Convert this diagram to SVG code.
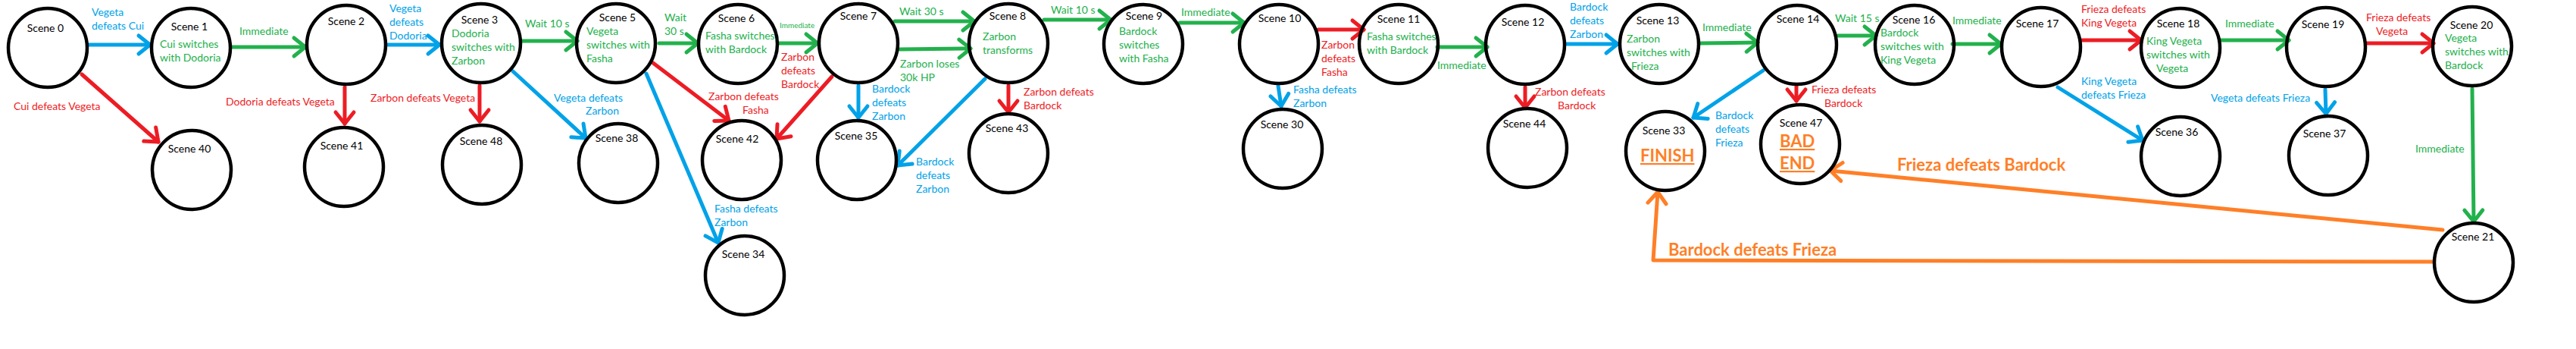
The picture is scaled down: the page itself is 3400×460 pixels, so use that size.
<svg xmlns="http://www.w3.org/2000/svg" width="3400" height="460" viewBox="0 0 3400 460">
<style>
text{font-family:Lato,"Liberation Sans",sans-serif;font-size:14px}
.n circle{fill:none;stroke:#000;stroke-width:4.5}
.n text.h{fill:#000;text-anchor:middle}
.g{fill:#22B14C}.b{fill:#00A2E8}.r{fill:#ED1C24}
.o{fill:#FF7F27;font-weight:bold;font-size:22px}
.u{text-decoration:underline}
.sm{font-size:10px}
line,polyline{fill:none;stroke-width:5;stroke-linecap:round;stroke-linejoin:round}
.cb{stroke:#00A2E8;marker-end:url(#mb)}
.cg{stroke:#22B14C;marker-end:url(#mg)}
.cr{stroke:#ED1C24;marker-end:url(#mr)}
.co{stroke:#FF7F27;marker-end:url(#mo)}
</style>
<defs>
<marker id="mb" viewBox="-20 -16 24 32" refX="0" refY="0" markerWidth="24" markerHeight="32" markerUnits="userSpaceOnUse" orient="auto"><path d="M-15,-12 L0,0 L-15,12" fill="none" stroke="#00A2E8" stroke-width="5" stroke-linecap="round" stroke-linejoin="round"/></marker>
<marker id="mg" viewBox="-20 -16 24 32" refX="0" refY="0" markerWidth="24" markerHeight="32" markerUnits="userSpaceOnUse" orient="auto"><path d="M-15,-12 L0,0 L-15,12" fill="none" stroke="#22B14C" stroke-width="5" stroke-linecap="round" stroke-linejoin="round"/></marker>
<marker id="mr" viewBox="-20 -16 24 32" refX="0" refY="0" markerWidth="24" markerHeight="32" markerUnits="userSpaceOnUse" orient="auto"><path d="M-15,-12 L0,0 L-15,12" fill="none" stroke="#ED1C24" stroke-width="5" stroke-linecap="round" stroke-linejoin="round"/></marker>
<marker id="mo" viewBox="-20 -16 24 32" refX="0" refY="0" markerWidth="24" markerHeight="32" markerUnits="userSpaceOnUse" orient="auto"><path d="M-15,-12 L0,0 L-15,12" fill="none" stroke="#FF7F27" stroke-width="5" stroke-linecap="round" stroke-linejoin="round"/></marker>
</defs>
<rect width="3400" height="460" fill="#fff"/>

<g id="connectors">
<line class="cb" x1="117" y1="59" x2="198" y2="59"/>
<line class="cb" x1="512" y1="59" x2="580" y2="59"/>
<line class="cb" x1="677" y1="94" x2="773" y2="182"/>
<line class="cb" x1="853" y1="97" x2="948" y2="320"/>
<line class="cb" x1="1133" y1="113" x2="1133" y2="155"/>
<line class="cb" x1="1300" y1="104" x2="1185" y2="218"/>
<line class="cb" x1="1687" y1="113" x2="1691" y2="140"/>
<line class="cb" x1="2067" y1="58" x2="2135" y2="58"/>
<line class="cb" x1="2327" y1="93" x2="2235" y2="155"/>
<line class="cb" x1="2716" y1="115" x2="2828" y2="185"/>
<line class="cb" x1="3069" y1="118" x2="3070" y2="150"/>

<line class="cg" x1="305" y1="62" x2="403" y2="62"/>
<line class="cg" x1="688" y1="54" x2="762" y2="54"/>
<line class="cg" x1="870" y1="57" x2="921" y2="57"/>
<line class="cg" x1="1028" y1="57" x2="1079" y2="57"/>
<line class="cg" x1="1181" y1="28" x2="1286" y2="28"/>
<line class="cg" x1="1187" y1="65" x2="1281" y2="64"/>
<line class="cg" x1="1378" y1="26" x2="1466" y2="26"/>
<line class="cg" x1="1557" y1="30" x2="1642" y2="30"/>
<line class="cg" x1="1897" y1="62" x2="1963" y2="62"/>
<line class="cg" x1="2244" y1="57" x2="2320" y2="56"/>
<line class="cg" x1="2426" y1="47" x2="2476" y2="47"/>
<line class="cg" x1="2577" y1="58" x2="2641" y2="58"/>
<line class="cg" x1="2931" y1="53" x2="3021" y2="53"/>
<line class="cg" x1="3263" y1="117" x2="3265" y2="292"/>

<line class="cr" x1="108" y1="98" x2="209" y2="187"/>
<line class="cr" x1="455" y1="115" x2="455" y2="163"/>
<line class="cr" x1="633" y1="113" x2="633" y2="160"/>
<line class="cr" x1="862" y1="83" x2="962" y2="159"/>
<line class="cr" x1="1098" y1="101" x2="1025" y2="183"/>
<line class="cr" x1="1331" y1="113" x2="1331" y2="148"/>
<line class="cr" x1="1740" y1="39" x2="1800" y2="39"/>
<line class="cr" x1="2013" y1="115" x2="2013" y2="142"/>
<line class="cr" x1="2371" y1="113" x2="2371" y2="133"/>
<line class="cr" x1="2748" y1="53" x2="2826" y2="53"/>
<line class="cr" x1="3123" y1="57" x2="3212" y2="57"/>

<line class="co" x1="3224" y1="303" x2="2416" y2="225"/>
<polyline class="co" points="3211,345 2182,343 2188,253"/>

<g id="edge-labels">
<text class="b"><tspan x="121" y="21">Vegeta</tspan><tspan x="121" y="39">defeats Cui</tspan></text>
<text class="b"><tspan x="514" y="16">Vegeta</tspan><tspan x="514" y="34">defeats</tspan><tspan x="514" y="52">Dodoria</tspan></text>
<text class="b"><tspan x="731" y="134">Vegeta defeats</tspan><tspan x="773" y="151">Zarbon</tspan></text>
<text class="b"><tspan x="943" y="280">Fasha defeats</tspan><tspan x="943" y="298">Zarbon</tspan></text>
<text class="b"><tspan x="1151" y="122">Bardock</tspan><tspan x="1151" y="140">defeats</tspan><tspan x="1151" y="158">Zarbon</tspan></text>
<text class="b"><tspan x="1209" y="218">Bardock</tspan><tspan x="1209" y="236">defeats</tspan><tspan x="1209" y="254">Zarbon</tspan></text>
<text class="b"><tspan x="1707" y="123">Fasha defeats</tspan><tspan x="1707" y="141">Zarbon</tspan></text>
<text class="b"><tspan x="2072" y="14">Bardock</tspan><tspan x="2072" y="32">defeats</tspan><tspan x="2072" y="50">Zarbon</tspan></text>
<text class="b"><tspan x="2264" y="157">Bardock</tspan><tspan x="2264" y="175">defeats</tspan><tspan x="2264" y="193">Frieza</tspan></text>
<text class="b"><tspan x="2747" y="112">King Vegeta</tspan><tspan x="2747" y="130">defeats Frieza</tspan></text>
<text class="b" x="2918" y="134">Vegeta defeats Frieza</text>

<text class="g" x="316" y="46">Immediate</text>
<text class="g" x="693" y="36">Wait 10 s</text>
<text class="g"><tspan x="877" y="28">Wait</tspan><tspan x="877" y="46">30 s</tspan></text>
<text class="g sm" x="1029" y="37">Immediate</text>
<text class="g" x="1187" y="20">Wait 30 s</text>
<text class="g"><tspan x="1188" y="89">Zarbon loses</tspan><tspan x="1188" y="107">30k HP</tspan></text>
<text class="g" x="1387" y="18">Wait 10 s</text>
<text class="g" x="1559" y="21">Immediate</text>
<text class="g" x="1897" y="91">Immediate</text>
<text class="g" x="2247" y="41">Immediate</text>
<text class="g" x="2422" y="29">Wait 15 s</text>
<text class="g" x="2577" y="32">Immediate</text>
<text class="g" x="2937" y="36">Immediate</text>
<text class="g" x="3188" y="201">Immediate</text>

<text class="r" x="18" y="145">Cui defeats Vegeta</text>
<text class="r" x="298" y="139">Dodoria defeats Vegeta</text>
<text class="r" x="489" y="134">Zarbon defeats Vegeta</text>
<text class="r"><tspan x="1031" y="80">Zarbon</tspan><tspan x="1031" y="98">defeats</tspan><tspan x="1031" y="116">Bardock</tspan></text>
<text class="r"><tspan x="935" y="132">Zarbon defeats</tspan><tspan x="980" y="150">Fasha</tspan></text>
<text class="r"><tspan x="1351" y="126">Zarbon defeats</tspan><tspan x="1351" y="144">Bardock</tspan></text>
<text class="r"><tspan x="1744" y="64">Zarbon</tspan><tspan x="1744" y="82">defeats</tspan><tspan x="1744" y="100">Fasha</tspan></text>
<text class="r"><tspan x="2026" y="126">Zarbon defeats</tspan><tspan x="2056" y="144">Bardock</tspan></text>
<text class="r"><tspan x="2391" y="123">Frieza defeats</tspan><tspan x="2408" y="141">Bardock</tspan></text>
<text class="r"><tspan x="2747" y="17">Frieza defeats</tspan><tspan x="2747" y="35">King Vegeta</tspan></text>
<text class="r"><tspan x="3123" y="28">Frieza defeats</tspan><tspan x="3136" y="46">Vegeta</tspan></text>

<text class="o" x="2504" y="225">Frieza defeats Bardock</text>
<text class="o" x="2202" y="337">Bardock defeats Frieza</text>
</g>
</g>

<g id="scene0" class="n"><circle cx="63" cy="63" r="52"/><text class="h" x="60" y="42">Scene 0</text></g>
<g id="scene1" class="n"><circle cx="252" cy="63" r="52"/><text class="h" x="250" y="40">Scene 1</text><text class="g"><tspan x="211" y="63">Cui switches</tspan><tspan x="211" y="81">with Dodoria</tspan></text></g>
<g id="scene40" class="n"><circle cx="253" cy="224" r="52"/><text class="h" x="250" y="201">Scene 40</text></g>
<g id="scene2" class="n"><circle cx="457" cy="59" r="52"/><text class="h" x="457" y="33">Scene 2</text></g>
<g id="scene41" class="n"><circle cx="454" cy="220" r="52"/><text class="h" x="451" y="197">Scene 41</text></g>
<g id="scene3" class="n"><circle cx="635" cy="57" r="52"/><text class="h" x="633" y="31">Scene 3</text><text class="g"><tspan x="596" y="49">Dodoria</tspan><tspan x="596" y="67">switches with</tspan><tspan x="596" y="85">Zarbon</tspan></text></g>
<g id="scene48" class="n"><circle cx="636" cy="217" r="52"/><text class="h" x="635" y="191">Scene 48</text></g>
<g id="scene5" class="n"><circle cx="813" cy="57" r="52"/><text class="h" x="815" y="28">Scene 5</text><text class="g"><tspan x="774" y="46">Vegeta</tspan><tspan x="774" y="64">switches with</tspan><tspan x="774" y="82">Fasha</tspan></text></g>
<g id="scene38" class="n"><circle cx="816" cy="215" r="52"/><text class="h" x="814" y="187">Scene 38</text></g>
<g id="scene6" class="n"><circle cx="974" cy="58" r="52"/><text class="h" x="972" y="29">Scene 6</text><text class="g"><tspan x="931" y="52">Fasha switches</tspan><tspan x="931" y="70">with Bardock</tspan></text></g>
<g id="scene42" class="n"><circle cx="979" cy="211" r="52"/><text class="h" x="973" y="188">Scene 42</text></g>
<g id="scene34" class="n"><circle cx="983" cy="363" r="52"/><text class="h" x="981" y="340">Scene 34</text></g>
<g id="scene7" class="n"><circle cx="1133" cy="57" r="52"/><text class="h" x="1133" y="26">Scene 7</text></g>
<g id="scene35" class="n"><circle cx="1131" cy="211" r="52"/><text class="h" x="1130" y="184">Scene 35</text></g>
<g id="scene8" class="n"><circle cx="1331" cy="57" r="52"/><text class="h" x="1330" y="26">Scene 8</text><text class="g"><tspan x="1297" y="53">Zarbon</tspan><tspan x="1297" y="71">transforms</tspan></text></g>
<g id="scene43" class="n"><circle cx="1331" cy="202" r="52"/><text class="h" x="1329" y="174">Scene 43</text></g>
<g id="scene9" class="n"><circle cx="1509" cy="58" r="52"/><text class="h" x="1510" y="26">Scene 9</text><text class="g"><tspan x="1477" y="46">Bardock</tspan><tspan x="1477" y="64">switches</tspan><tspan x="1477" y="82">with Fasha</tspan></text></g>
<g id="scene10" class="n"><circle cx="1688" cy="58" r="52"/><text class="h" x="1689" y="29">Scene 10</text></g>
<g id="scene30" class="n"><circle cx="1693" cy="196" r="52"/><text class="h" x="1692" y="169">Scene 30</text></g>
<g id="scene11" class="n"><circle cx="1846" cy="58" r="52"/><text class="h" x="1846" y="30">Scene 11</text><text class="g"><tspan x="1804" y="53">Fasha switches</tspan><tspan x="1804" y="71">with Bardock</tspan></text></g>
<g id="scene12" class="n"><circle cx="2013" cy="59" r="52"/><text class="h" x="2010" y="34">Scene 12</text></g>
<g id="scene44" class="n"><circle cx="2016" cy="195" r="52"/><text class="h" x="2012" y="168">Scene 44</text></g>
<g id="scene13" class="n"><circle cx="2190" cy="58" r="52"/><text class="h" x="2188" y="32">Scene 13</text><text class="g"><tspan x="2147" y="56">Zarbon</tspan><tspan x="2147" y="74">switches with</tspan><tspan x="2153" y="92">Frieza</tspan></text></g>
<g id="scene33" class="n"><circle cx="2198" cy="199" r="52"/><text class="h" x="2196" y="177">Scene 33</text><text class="o u" x="2165" y="213">FINISH</text></g>
<g id="scene14" class="n"><circle cx="2372" cy="59" r="52"/><text class="h" x="2373" y="30">Scene 14</text></g>
<g id="scene47" class="n"><circle cx="2376" cy="190" r="52"/><text class="h" x="2377" y="167">Scene 47</text><text class="o u"><tspan x="2349" y="194">BAD</tspan><tspan x="2349" y="223">END</tspan></text></g>
<g id="scene16" class="n"><circle cx="2527" cy="59" r="52"/><text class="h" x="2526" y="31">Scene 16</text><text class="g"><tspan x="2482" y="48">Bardock</tspan><tspan x="2482" y="66">switches with</tspan><tspan x="2482" y="84">King Vegeta</tspan></text></g>
<g id="scene17" class="n"><circle cx="2694" cy="62" r="52"/><text class="h" x="2689" y="36">Scene 17</text></g>
<g id="scene18" class="n"><circle cx="2878" cy="63" r="52"/><text class="h" x="2875" y="36">Scene 18</text><text class="g"><tspan x="2833" y="59">King Vegeta</tspan><tspan x="2833" y="77">switches with</tspan><tspan x="2846" y="95">Vegeta</tspan></text></g>
<g id="scene36" class="n"><circle cx="2878" cy="206" r="52"/><text class="h" x="2873" y="179">Scene 36</text></g>
<g id="scene19" class="n"><circle cx="3070" cy="62" r="52"/><text class="h" x="3066" y="37">Scene 19</text></g>
<g id="scene37" class="n"><circle cx="3073" cy="205" r="52"/><text class="h" x="3068" y="181">Scene 37</text></g>
<g id="scene20" class="n"><circle cx="3263" cy="61" r="52"/><text class="h" x="3262" y="38">Scene 20</text><text class="g"><tspan x="3227" y="55">Vegeta</tspan><tspan x="3227" y="73">switches with</tspan><tspan x="3227" y="91">Bardock</tspan></text></g>
<g id="scene21" class="n"><circle cx="3265" cy="346" r="52"/><text class="h" x="3264" y="317">Scene 21</text></g>
</svg>
